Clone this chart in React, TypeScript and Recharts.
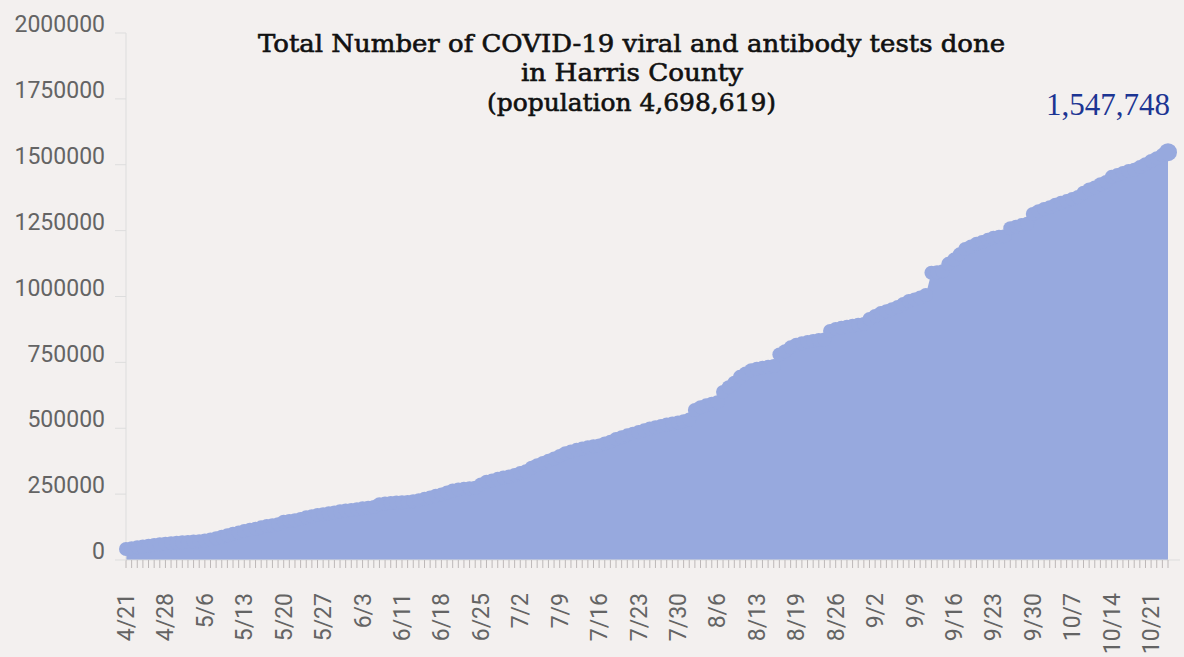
import React from 'react';
import { AreaChart, Area, XAxis, YAxis } from 'recharts';

const dates: string[] = [
  '4/21','4/22','4/23','4/24','4/25','4/26','4/27','4/28','4/29','4/30',
  '5/1','5/2','5/4','5/5','5/6','5/7','5/8','5/9','5/10','5/11','5/12','5/13','5/14','5/15','5/16','5/17','5/18','5/19','5/20','5/21','5/22','5/23','5/24','5/25','5/26','5/27','5/28','5/29','5/30','5/31',
  '6/1','6/2','6/3','6/4','6/5','6/6','6/8','6/9','6/10','6/11','6/12','6/13','6/14','6/15','6/16','6/17','6/18','6/19','6/20','6/21','6/22','6/23','6/24','6/25','6/26','6/27','6/28','6/29','6/30',
  '7/1','7/2','7/3','7/4','7/5','7/6','7/7','7/8','7/9','7/10','7/11','7/12','7/13','7/14','7/15','7/16','7/17','7/18','7/19','7/20','7/21','7/22','7/23','7/24','7/25','7/26','7/27','7/28','7/29','7/30','7/31',
  '8/1','8/2','8/3','8/4','8/5','8/6','8/7','8/8','8/9','8/10','8/11','8/12','8/13','8/14','8/15','8/16','8/16','8/17','8/18','8/19','8/20','8/21','8/22','8/23','8/24','8/25','8/26','8/27','8/28','8/29','8/30','8/31',
  '9/1','9/2','9/3','9/4','9/5','9/6','9/7','9/8','9/9','9/10','9/11','9/12','9/13','9/14','9/15','9/16','9/17','9/18','9/19','9/20','9/21','9/22','9/23','9/24','9/25','9/26','9/27','9/28','9/29','9/30',
  '10/1','10/2','10/3','10/4','10/5','10/6','10/7','10/8','10/9','10/10','10/11','10/12','10/13','10/14','10/15','10/16','10/17','10/18','10/19','10/20','10/21','10/22','10/23','10/24',
];

const totalTests: number[] = [
  42000, 45000, 48000, 51000, 54000, 57000, 59500,
  62000, 64000, 65500, 67000, 68500, 70000, 71500,
  74000, 78000, 83000, 88000, 94000, 100000, 104000,
  110000, 115000, 119000, 124000, 129000, 132000, 136000,
  145000, 148000, 151000, 156000, 162000, 166000, 171000,
  174000, 177000, 180000, 185000, 188000, 190000, 193000,
  196000, 198000, 201000, 212000, 214000, 216000, 218000,
  219000, 220000, 223000, 227000, 232000, 237000, 244000,
  249000, 256000, 264000, 268000, 270000, 272000, 274000,
  287000, 297000, 302000, 308000, 313000, 317000, 323000,
  330000, 337000, 350000, 360000, 368000, 377000, 385000,
  395000, 405000, 412000, 418000, 423000, 428000, 432000,
  435000, 442000, 449000, 459000, 466000, 473000, 479000,
  486000, 492000, 499000, 504000, 509000, 514000, 518000,
  522000, 527000, 533000, 569000, 580000, 587000, 593000,
  599000, 638000, 656000, 673000, 695000, 708000, 720000,
  726000, 730000, 733000, 736000, 780000, 792000, 807000,
  817000, 823000, 827000, 831000, 835000, 837000, 869000,
  877000, 881000, 885000, 889000, 893000, 896000, 915000,
  926000, 937000, 944000, 952000, 960000, 972000, 983000,
  989000, 996000, 1006000, 1090000, 1092000, 1096000, 1124000,
  1140000, 1160000, 1180000, 1190000, 1200000, 1207000, 1215000,
  1223000, 1227000, 1229000, 1259000, 1265000, 1271000, 1276000,
  1313000, 1324000, 1332000, 1339000, 1348000, 1356000, 1362000,
  1370000, 1378000, 1394000, 1406000, 1414000, 1426000, 1435000,
  1454000, 1461000, 1469000, 1476000, 1481000, 1491000, 1502000,
  1514000, 1525000, 1537000, 1547748,
];

const yTicks: number[] = [0, 250000, 500000, 750000, 1000000, 1250000, 1500000, 1750000, 2000000];
const labelEvery = 7;
const titleLines: string[] = [
  'Total Number of COVID-19 viral and antibody tests done',
  'in Harris County',
  '(population 4,698,619)',
];
const latestLabel = '1,547,748';

const data = dates.map((d, i) => ({ date: d, total: totalTests[i] }));

const AREA_COLOR = '#97a9de';
const AXIS_TEXT = '#646464';

const XTick = (props: any) => {
  const { x, y, payload, index } = props;
  if (index % labelEvery !== 0) return null;
  const ax = x + 8;
  const ay = y + 23;
  return (
    <text
      x={ax}
      y={ay}
      transform={`rotate(-90, ${ax}, ${ay})`}
      textAnchor="end"
      fontFamily="Roboto"
      fontSize={23}
      fill={AXIS_TEXT}
    >
      {payload.value}
    </text>
  );
};

const YTick = (props: any) => {
  const { x, y, payload } = props;
  return (
    <text x={x} y={y - 9} dy="0.355em" textAnchor="end" fontFamily="Roboto" fontSize={23} fill={AXIS_TEXT}>
      {payload.value}
    </text>
  );
};

const Dot = (props: any) => {
  const { cx, cy, index } = props;
  if (cx == null || cy == null) return <g key={`d-${index}`} />;
  const r = index === totalTests.length - 1 ? 9 : 7;
  return <circle key={`d-${index}`} cx={cx} cy={cy} r={r} fill={AREA_COLOR} stroke="none" />;
};

const titleStyle = {
  fontFamily: 'DejaVu Serif',
  fontSize: 24,
  fill: '#111',
  stroke: '#111',
  strokeWidth: 0.6,
} as const;

export default function App() {
  return (
    <div style={{ position: 'absolute', left: 0, top: 0, width: 1184, height: 657, background: '#f3f0ef', overflow: 'hidden' }}>
      <AreaChart width={1184} height={657} data={data} margin={{ top: 33, right: 4, bottom: 0, left: 0 }}>
        <XAxis
          dataKey="date"
          interval={0}
          height={97}
          padding={{ left: 0, right: 12 }}
          tickSize={8}
          tickMargin={2}
          axisLine={{ stroke: '#dddddd' }}
          tickLine={{ stroke: '#bdb8b8' }}
          tick={<XTick />}
        />
        <YAxis
          domain={[0, 2000000]}
          ticks={yTicks}
          width={126}
          tickSize={11}
          tickMargin={10}
          axisLine={{ stroke: '#dddddd' }}
          tickLine={{ stroke: '#dddddd' }}
          tick={<YTick />}
        />
        <Area
          type="linear"
          dataKey="total"
          stroke="none"
          fill={AREA_COLOR}
          fillOpacity={1}
          dot={Dot}
          activeDot={false}
          isAnimationActive={false}
        />
      </AreaChart>
      <svg width={1184} height={657} style={{ position: 'absolute', left: 0, top: 0, pointerEvents: 'none' }}>
        <text x={258} y={52} {...titleStyle} textLength={747} lengthAdjust="spacingAndGlyphs">
          {titleLines[0]}
        </text>
        <text x={521} y={81} {...titleStyle} textLength={222} lengthAdjust="spacingAndGlyphs">
          {titleLines[1]}
        </text>
        <text x={487} y={111} {...titleStyle} textLength={289} lengthAdjust="spacingAndGlyphs">
          {titleLines[2]}
        </text>
        <text x={1170} y={115} textAnchor="end" fontFamily="Liberation Serif" fontSize={31} fill="#1c3593">
          {latestLabel}
        </text>
      </svg>
    </div>
  );
}
